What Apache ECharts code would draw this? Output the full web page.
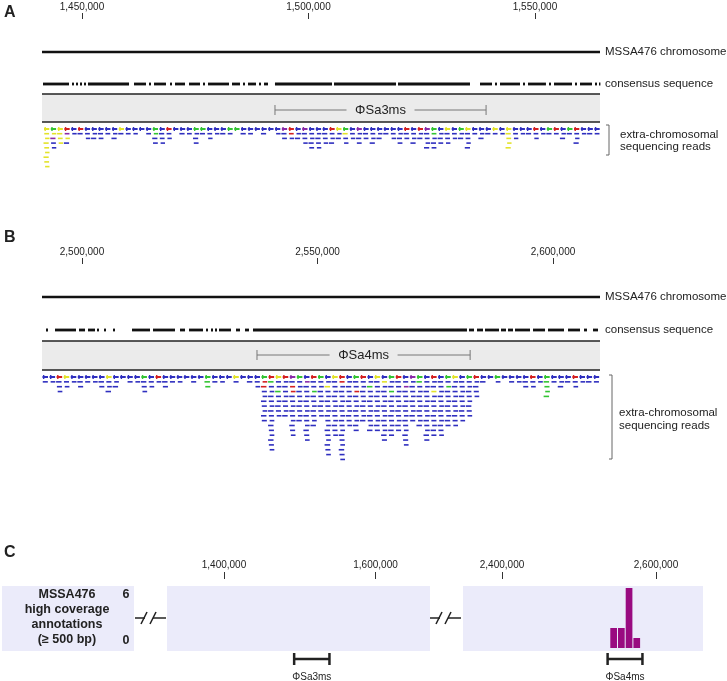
<!DOCTYPE html>
<html><head><meta charset="utf-8">
<script src="https://cdn.jsdelivr.net/npm/echarts@6/dist/echarts.min.js"></script>
<style>html,body{margin:0;padding:0;background:#fff}#c{width:727px;height:681px}</style>
</head><body><div id="c"></div>
<script>
// ---------------- DATA ----------------
const ticksA = [1450000, 1500000, 1550000];
const rangeA = [1441170, 1564350];
const ticksB = [2500000, 2550000, 2600000];
const rangeB = [2491508, 2609970];
const phageA = [1492600, 1539200, 'ΦSa3ms'];
const phageB = [2537150, 2582400, 'ΦSa4ms'];

const consensusA = [[1441390,1447130],[1447790,1448230],[1448680,1449120],[1449560,1450000],[1450440,1450880],[1451320,1460380],[1461480,1464130],[1464790,1465230],[1465890,1468540],[1469430,1469870],[1470530,1472740],[1473620,1476050],[1476710,1477150],[1477810,1482450],[1483110,1484880],[1485540,1485980],[1486640,1488410],[1489070,1489510],[1490180,1491060],[1492600,1505190],[1505630,1519320],[1519760,1535650],[1537860,1540510],[1541170,1541610],[1542270,1546690],[1547350,1547790],[1548450,1552420],[1553090,1553530],[1554190,1558170],[1558830,1559270],[1559930,1562580],[1563240,1563690],[1564130,1564350]];
const consensusB = [[2492360,2492780],[2494270,2498730],[2499360,2500640],[2501270,2502760],[2503180,2503610],[2504670,2505100],[2506580,2507010],[2510620,2514440],[2515070,2519740],[2520800,2521870],[2522720,2525690],[2526330,2526750],[2527390,2527810],[2528240,2528660],[2529080,2531630],[2532690,2533540],[2534600,2535450],[2536300,2581730],[2582160,2583220],[2583860,2585130],[2585560,2588530],[2588950,2590010],[2590440,2591500],[2591920,2595110],[2595740,2598290],[2598930,2602330],[2603180,2605730],[2606570,2607210],[2608480,2609550]];

// read pile-up depth per 1.5 kb bin
const binSize = 1500;
const binStartA = 1441500;
const depthA = [9,5,4,4,2,2,3,3,3,2, 3,2,2,2,1,2,4,4,3,1, 2,2,4,2,3,2,2,2,1,2, 2,1,2,1,2,3,3,3,4,5, 5,4,4,3,4,3,4,3,4,3, 2,3,4,3,4,3,5,5,4,4, 3,3,5,2,3,2,2,2,5,3, 2,2,3,2,2,2,3,2,4,2, 2,2];
// colour code of the first read row: 0 blue, 1 green, 2 red, 3 yellow, 4 purple
const topColorA = [3,1,3,2,0,2,0,0,0,0, 0,3,0,0,0,0,1,0,2,0, 0,0,1,1,0,0,0,1,1,0, 0,0,0,0,0,4,2,0,4,0, 0,0,2,3,1,0,4,0,0,0, 0,0,0,2,0,2,4,1,0,3, 0,1,3,0,0,0,3,0,3,0, 0,0,2,0,1,2,0,1,2,0, 0,0];
const accentsA = [[0,1,3],[0,2,3],[0,3,3],[0,4,3],[0,5,3],[0,6,3],[0,7,3],[0,8,3],[1,1,3],[1,2,4],[2,1,3],[2,2,3],[2,3,3],[3,1,4],[3,2,3],[16,1,1],[36,1,2],[44,1,3],[57,1,1],[68,1,3],[68,2,3],[68,3,3],[68,4,3]];

const binStartB = 2491500;
const depthB = [2,2,4,3,2,3,2,2,3,4, 3,1,2,2,4,3,2,3,2,2, 1,2,1,3,2,2,1,2,1,2, 3,10,16,9,9,13,10,14,11,9, 17,13,18,11,12,10,12,12,14,13, 12,15,10,11,14,13,13,11,11,10, 9,5,2,1,2,1,2,2,3,3, 2,5,2,3,2,3,2,2,2];
const topColorB = [0,0,2,3,0,0,0,0,0,3, 0,0,0,0,1,0,2,0,0,0, 0,0,0,1,0,0,0,3,0,0, 0,1,2,3,2,4,1,0,2,1, 0,3,2,0,1,2,0,3,0,1, 2,0,4,1,0,2,0,1,3,0, 1,2,0,0,1,0,0,0,0,2, 0,1,0,0,0,2,0,0,0];
const accentsB = [[23,1,1],[23,2,1],[31,1,2],[31,2,2],[32,1,1],[33,3,1],[35,2,2],[35,3,2],[37,1,4],[38,3,1],[40,2,3],[42,1,2],[44,3,2],[46,2,1],[48,1,3],[49,3,1],[51,2,4],[53,1,1],[55,3,3],[57,2,1],[71,1,1],[71,2,1],[71,3,1],[71,4,1]];

// panel C
const ticksC1 = [1400000, 1600000];
const rangeC1 = [1324750, 1671940];
const ticksC2 = [2400000, 2600000];
const rangeC2 = [2349340, 2661050];
const coverageBins = [[2540000,2550000,2],[2550000,2560000,2],[2560000,2570000,6],[2570000,2580000,1]];
const countLabels = ['6', '0'];
const labelLines = ['MSSA476', 'high coverage', 'annotations', '(≥ 500 bp)'];

// ---------------- RENDER ----------------
const FONT = '"Liberation Sans", Arial, sans-serif';
const READ_COLORS = ['#2f2fbf', '#33c433', '#d42020', '#e3e32a', '#8a2aa8'];
const LAVENDER = '#ebebfa';
const fmt = v => String(v).replace(/\B(?=(\d{3})+(?!\d))/g, ',');

function topAxis(gridIndex, range, ticks, tickLen, margin) {
  return {
    type: 'value', gridIndex, position: 'top', min: range[0], max: range[1], z: 10,
    axisLine: { show: false, onZero: false },
    axisTick: { show: true, length: tickLen, customValues: ticks, lineStyle: { color: '#333', width: 1 } },
    axisLabel: { customValues: ticks, formatter: fmt, fontSize: 10, color: '#222', margin: margin, fontFamily: FONT },
    splitLine: { show: false }
  };
}
function pxAxis(gridIndex, top, h) {
  return { type: 'value', gridIndex, min: top, max: top + h, inverse: true, show: false, splitLine: { show: false } };
}

function panelSeries(ai, range, consensus, phage, depth, binStart, topColor, accents, L) {
  const acc = {};
  accents.forEach(a => acc[a[0] + '_' + a[1]] = a[2]);
  const base = { type: 'custom', xAxisIndex: ai, yAxisIndex: ai, silent: true, animation: false };
  return [
    Object.assign({}, base, { // chromosome
      data: [[range[0], range[1]]],
      renderItem: (p, api) => {
        const a = api.coord([api.value(0), L.chrom]), b = api.coord([api.value(1), L.chrom]);
        return { type: 'line', shape: { x1: a[0], y1: a[1], x2: b[0], y2: b[1] }, style: { stroke: '#111', lineWidth: 2.5 } };
      }
    }),
    Object.assign({}, base, { // consensus
      data: consensus,
      renderItem: (p, api) => {
        const a = api.coord([api.value(0), L.cons]), b = api.coord([api.value(1), L.cons]);
        return { type: 'rect', shape: { x: a[0], y: a[1] - 1.4, width: Math.max(1.4, b[0] - a[0]), height: 2.8 }, style: { fill: '#111' } };
      }
    }),
    Object.assign({}, base, { // gray annotation box
      data: [[range[0], range[1]]],
      renderItem: (p, api) => {
        const a = api.coord([api.value(0), L.boxTop]), b = api.coord([api.value(1), L.boxBot]);
        return { type: 'group', children: [
          { type: 'rect', shape: { x: a[0], y: a[1], width: b[0] - a[0], height: b[1] - a[1] }, style: { fill: '#ebebeb' } },
          { type: 'line', shape: { x1: a[0], y1: a[1], x2: b[0], y2: a[1] }, style: { stroke: '#222', lineWidth: 1.3 } },
          { type: 'line', shape: { x1: a[0], y1: b[1], x2: b[0], y2: b[1] }, style: { stroke: '#222', lineWidth: 1.3 } }
        ] };
      }
    }),
    Object.assign({}, base, { // phage bracket
      data: [[phage[0], phage[1]]],
      renderItem: (p, api) => {
        const a = api.coord([api.value(0), L.phY]), b = api.coord([api.value(1), L.phY]);
        const cx = (a[0] + b[0]) / 2, y = a[1], g = 34;
        const st = { stroke: '#777', lineWidth: 1 };
        return { type: 'group', children: [
          { type: 'line', shape: { x1: a[0], y1: y, x2: cx - g, y2: y }, style: st },
          { type: 'line', shape: { x1: cx + g, y1: y, x2: b[0], y2: y }, style: st },
          { type: 'line', shape: { x1: a[0], y1: y - 5, x2: a[0], y2: y + 5 }, style: st },
          { type: 'line', shape: { x1: b[0], y1: y - 5, x2: b[0], y2: y + 5 }, style: st },
          { type: 'text', style: { text: phage[2], x: cx, y: y, align: 'center', verticalAlign: 'middle', fill: '#222', font: '13px ' + FONT } }
        ] };
      }
    }),
    Object.assign({}, base, { // reads pile-up
      data: depth.map((d, i) => [binStart + i * binSize, d]),
      renderItem: (p, api) => {
        const i = p.dataIndex, d = api.value(1), s = api.value(0);
        const x0 = api.coord([s, L.reads])[0], x1 = api.coord([s + binSize, L.reads])[0];
        const y0 = api.coord([s, L.reads])[1];
        const kids = [];
        for (let r = 0; r < d; r++) {
          const y = y0 + r * L.step;
          if (r === 0) {
            const c = READ_COLORS[topColor[i]];
            kids.push({ type: 'rect', shape: { x: x0 + 0.5, y: y - 1, width: x1 - x0 - 1.5, height: 2 }, style: { fill: c } });
            kids.push({ type: 'rect', shape: { x: x0 + 1, y: y - 2, width: 1.4, height: 4 }, style: { fill: c } });
          } else {
            const code = acc[i + '_' + r] || 0;
            const off = ((i + r) % 3) * 0.8;
            kids.push({ type: 'rect', shape: { x: x0 + off, y: y - 0.8, width: x1 - x0 - 1.6 - off * 0.5, height: 1.6 }, style: { fill: READ_COLORS[code] } });
          }
        }
        return { type: 'group', children: kids };
      }
    })
  ];
}

const LA = { chrom: 52, cons: 84, boxTop: 94, boxBot: 122, phY: 110, reads: 129, step: 4.7 };
const LB = { chrom: 297, cons: 330, boxTop: 341, boxBot: 370, phY: 355, reads: 377, step: 4.85 };

function coverageBackground(ai, range) {
  return {
    type: 'custom', xAxisIndex: ai, yAxisIndex: ai, silent: true, animation: false, z: 1,
    data: [[range[0], range[1]]],
    renderItem: (p, api) => {
      const a = api.coord([api.value(0), 6.2]), b = api.coord([api.value(1), -0.3]);
      return { type: 'rect', shape: { x: a[0], y: a[1], width: b[0] - a[0], height: b[1] - a[1] }, style: { fill: LAVENDER } };
    }
  };
}

function phageBarSeries(ai, phage) {
  return {
    type: 'custom', xAxisIndex: ai, yAxisIndex: ai, silent: true, animation: false,
    data: [[phage[0], phage[1]]],
    renderItem: (p, api) => {
      const a = api.coord([api.value(0), 0]), b = api.coord([api.value(1), 0]);
      const y = a[1] + 11;
      const st = { stroke: '#222', lineWidth: 2.5 };
      return { type: 'group', children: [
        { type: 'line', shape: { x1: a[0], y1: y, x2: b[0], y2: y }, style: st },
        { type: 'line', shape: { x1: a[0], y1: y - 6, x2: a[0], y2: y + 6 }, style: st },
        { type: 'line', shape: { x1: b[0], y1: y - 6, x2: b[0], y2: y + 6 }, style: st },
        { type: 'text', style: { text: phage[2], x: (a[0] + b[0]) / 2, y: y + 18, align: 'center', verticalAlign: 'middle', fill: '#222', font: '10px ' + FONT } }
      ] };
    }
  };
}

function breakMark(x, y) {
  const st = { stroke: '#222', lineWidth: 1.5 };
  return { type: 'group', children: [
    { type: 'line', shape: { x1: x, y1: y, x2: x + 10, y2: y }, style: st },
    { type: 'line', shape: { x1: x + 6, y1: y + 6, x2: x + 12, y2: y - 6 }, style: st },
    { type: 'line', shape: { x1: x + 15, y1: y + 6, x2: x + 21, y2: y - 6 }, style: st },
    { type: 'line', shape: { x1: x + 18, y1: y, x2: x + 31, y2: y }, style: st }
  ] };
}

const txt = (x, y, text, font, align) => ({ type: 'text', x: x, y: y, silent: true,
  style: { text: text, font: font, fill: '#222', align: align || 'left', verticalAlign: 'middle' } });
const bracket = (x, y1, y2) => ({ type: 'polyline', silent: true,
  shape: { points: [[x - 3, y1], [x, y1], [x, y2], [x - 3, y2]] }, style: { stroke: '#666', lineWidth: 1, fill: null } });

const lab = '11.5px ' + FONT;
const graphics = [
  txt(4, 13, 'A', 'bold 16px ' + FONT),
  txt(4, 238, 'B', 'bold 16px ' + FONT),
  txt(4, 553, 'C', 'bold 16px ' + FONT),
  txt(605, 52, 'MSSA476 chromosome', lab),
  txt(605, 84, 'consensus sequence', lab),
  bracket(609, 125, 155),
  txt(620, 135, 'extra-chromosomal', lab),
  txt(620, 147, 'sequencing reads', lab),
  txt(605, 297, 'MSSA476 chromosome', lab),
  txt(605, 330, 'consensus sequence', lab),
  bracket(612, 375, 459),
  txt(619, 413, 'extra-chromosomal', lab),
  txt(619, 426, 'sequencing reads', lab),
  { type: 'rect', silent: true, shape: { x: 2, y: 586, width: 132, height: 65 }, style: { fill: LAVENDER } },
  txt(126, 595, countLabels[0], 'bold 12.5px ' + FONT, 'center'),
  txt(126, 641, countLabels[1], 'bold 12.5px ' + FONT, 'center'),
  breakMark(135, 618),
  breakMark(430, 618)
];
labelLines.forEach((t, k) => graphics.push(txt(67, 595 + k * 14.7, t, 'bold 12.5px ' + FONT, 'center')));

const option = {
  animation: false,
  backgroundColor: '#ffffff',
  grid: [
    { left: 42, width: 558, top: 19, height: 160 },
    { left: 42, width: 558, top: 264, height: 200 },
    { left: 167, width: 263, top: 579, height: 72 },
    { left: 463, width: 240, top: 579, height: 72 }
  ],
  xAxis: [
    topAxis(0, rangeA, ticksA, 6, 7),
    topAxis(1, rangeB, ticksB, 6, 7),
    topAxis(2, rangeC1, ticksC1, 7, 9),
    topAxis(3, rangeC2, ticksC2, 7, 9)
  ],
  yAxis: [
    pxAxis(0, 19, 160),
    pxAxis(1, 264, 200),
    { type: 'value', gridIndex: 2, min: -0.3, max: 6.9, show: false, splitLine: { show: false } },
    { type: 'value', gridIndex: 3, min: -0.3, max: 6.9, show: false, splitLine: { show: false } }
  ],
  series: [
    ...panelSeries(0, rangeA, consensusA, phageA, depthA, binStartA, topColorA, accentsA, LA),
    ...panelSeries(1, rangeB, consensusB, phageB, depthB, binStartB, topColorB, accentsB, LB),
    coverageBackground(2, rangeC1),
    coverageBackground(3, rangeC2),
    {
      type: 'custom', xAxisIndex: 3, yAxisIndex: 3, silent: true, animation: false, z: 3,
      data: coverageBins,
      renderItem: (p, api) => {
        const a = api.coord([api.value(0), api.value(2)]), b = api.coord([api.value(1), 0]);
        return { type: 'rect', shape: { x: a[0] + 0.5, y: a[1], width: b[0] - a[0] - 1, height: b[1] - a[1] }, style: { fill: '#990a80' } };
      }
    },
    phageBarSeries(2, phageA),
    phageBarSeries(3, phageB)
  ],
  graphic: graphics
};
const chart = echarts.init(document.getElementById('c'), null, { renderer: 'canvas' });
chart.setOption(option);
</script></body></html>
